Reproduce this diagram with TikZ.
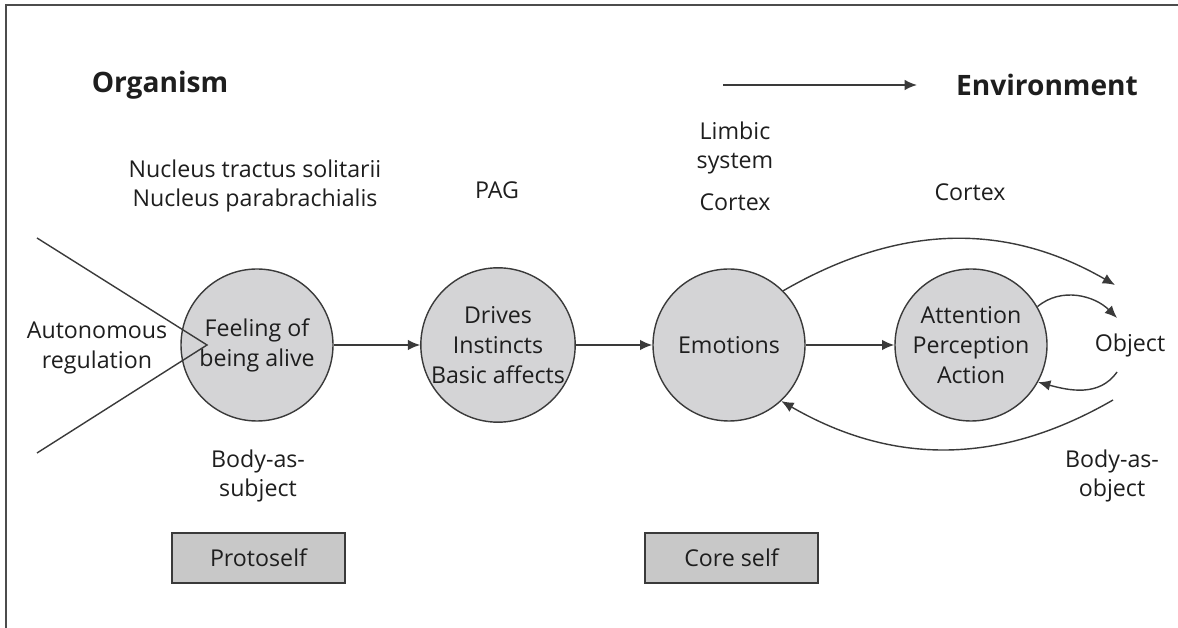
\documentclass[tikz,border=0pt]{standalone}
\usepackage{fontspec}
\setmainfont{Open Sans}
\usetikzlibrary{arrows.meta}
\definecolor{discgray}{HTML}{D4D4D6}
\definecolor{boxgray}{HTML}{C8C8C8}
\definecolor{inkgray}{HTML}{3A3A3A}
\definecolor{textdark}{HTML}{1E1E1E}

\tikzset{
  stage/.style={circle, draw=inkgray, line width=0.8pt, fill=discgray,
    minimum size=3.04cm, inner sep=0pt, align=center, text=textdark,
    font=\fontsize{13.2}{17}\selectfont},
  selfbox/.style={rectangle, draw=inkgray, line width=0.8pt, fill=boxgray,
    minimum width=3.46cm, minimum height=1.0cm, text=textdark,
    font=\fontsize{13.2}{17}\selectfont},
  region/.style={align=center, text=textdark, font=\fontsize{13.2}{17}\selectfont},
  pole/.style={text=textdark, font=\fontsize{16}{19}\bfseries},
  flow/.style={-{Latex[length=7pt, width=6pt]}, line width=0.8pt, draw=inkgray}
}

\begin{document}
\begin{tikzpicture}
  \useasboundingbox (0, 0) rectangle (23.56, 12.56);
  \draw[gray!60!black, line width=1.2pt] (0.12, 0) -- (0.12, 12.46) -- (23.56, 12.46);

  \node (organism) [pole] at (3.2, 10.86) {Organism};
  \node (environment) [pole] at (20.94, 10.86) {Environment};
  \coordinate (dirstart) at (14.46, 10.86);
  \coordinate (dirend) at (18.34, 10.86);
  \draw[flow, line width=1pt] (dirstart) -- (dirend);

  \node (nuclei) [region] at (5.1, 8.84) {Nucleus tractus solitarii \\ Nucleus parabrachialis};
  \node (pag) [region] at (9.94, 8.76) {PAG};
  \node (limbic) [region] at (14.7, 9.6) {Limbic \\ system};
  \node (cortexA) [region] at (14.7, 8.52) {Cortex};
  \node (cortexB) [region] at (19.4, 8.72) {Cortex};

  \node (autonomic) [region] at (1.94, 5.6) {Autonomous \\ regulation};
  \coordinate (wedgetop) at (0.74, 7.8);
  \coordinate (wedgetip) at (4.14, 5.66);
  \coordinate (wedgebot) at (0.74, 3.5);

  \node (alive) [stage] at (5.14, 5.66) {Feeling of \\ being alive};
  \node (drives) [stage] at (9.96, 5.66) {Drives \\ Instincts \\ Basic affects};
  \node (emotions) [stage] at (14.58, 5.66) {Emotions};
  \node (attention) [stage] at (19.42, 5.66) {Attention \\ Perception \\ Action};
  \node (object) [region] at (22.6, 5.66) {Object};

  \draw[line width=0.8pt, draw=inkgray] (wedgetop) -- (wedgetip) -- (wedgebot);

  \draw[flow] (alive) -- (drives);
  \draw[flow] (drives) -- (emotions);
  \draw[flow] (emotions) -- (attention);

  \coordinate (objhigh) at (22.3, 6.86);
  \coordinate (objin) at (22.34, 6.2);
  \coordinate (objout) at (22.34, 5.12);
  \coordinate (objlow) at (22.26, 4.56);
  \draw[flow] (emotions.45) to [out=30, in=150] (objhigh);
  \draw[flow] (attention.30) to [out=40, in=135] (objin);
  \draw[flow] (objout) to [out=-125, in=-15] (attention.-29);
  \draw[flow] (objlow) to [out=-150, in=-30] (emotions.-47);

  \node (subject) [region] at (5.16, 3.04) {Body-as- \\ subject};
  \node (bodyobject) [region] at (22.24, 3.04) {Body-as- \\ object};
  \node (protoself) [selfbox] at (5.17, 1.4) {Protoself};
  \node (coreself) [selfbox] at (14.63, 1.4) {Core self};
\end{tikzpicture}
\end{document}
